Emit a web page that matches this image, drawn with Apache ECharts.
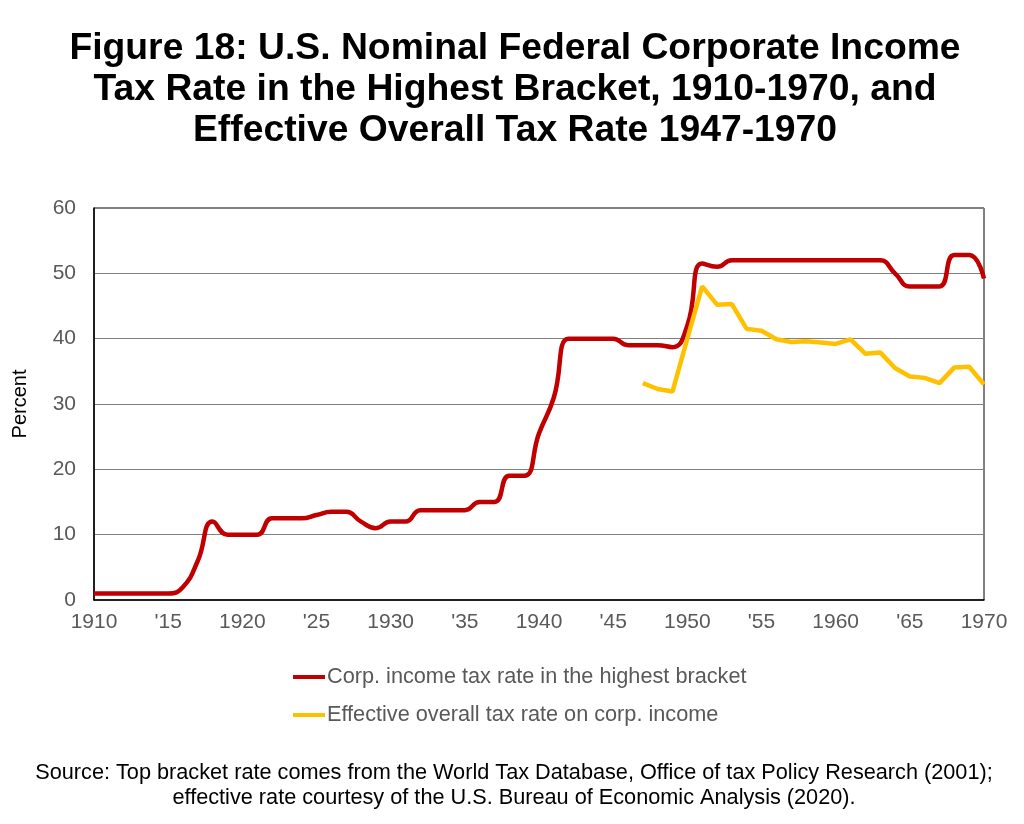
<!DOCTYPE html>
<html>
<head>
<meta charset="utf-8">
<script src="https://cdn.jsdelivr.net/npm/echarts@6/dist/echarts.min.js"></script>
<style>html,body{margin:0;padding:0;background:#fff}#c{width:1024px;height:824px}</style>
</head>
<body>
<div id="c"></div>
<script>
var topYears = [];
for (var y = 1910; y <= 1970; y++) topYears.push(y);
var topRate = [1,1,1,1,1,1,2,6,12,10,10,10,12.5,12.5,12.5,13,13.5,13.5,12,11,12,12,13.75,13.75,13.75,13.75,15,15,19,19,25.5,31,40,40,40,40,39,39,39,38.7,42,51.5,51,52,52,52,52,52,52,52,52,52,52,52,50,48,48,48,52.8,52.8,49.2];
var effYears = [];
for (var y2 = 1947; y2 <= 1970; y2++) effYears.push(y2);
var effRate = [33.2,32.3,31.9,40,48,45.2,45.3,41.5,41.2,39.9,39.5,39.6,39.4,39.2,39.9,37.7,37.9,35.5,34.2,34,33.2,35.6,35.7,33];
var seriesNames = ['Corp. income tax rate in the highest bracket','Effective overall tax rate on corp. income'];
var titleText = 'Figure 18: U.S. Nominal Federal Corporate Income\nTax Rate in the Highest Bracket, 1910-1970, and\nEffective Overall Tax Rate 1947-1970';
var sourceText = 'Source: Top bracket rate comes from the World Tax Database, Office of tax Policy Research (2001);\neffective rate courtesy of the U.S. Bureau of Economic Analysis (2020).';

function pairs(xs, vs){ return xs.map(function(x,i){return [x, vs[i]];}); }

var FONT = 'Liberation Sans, Arial, sans-serif';
var chart = echarts.init(document.getElementById('c'));
chart.setOption({
  animation: false,
  title: [
    {text: titleText, left: 510, top: 23, textAlign: 'center',
     textStyle: {fontFamily: FONT, fontSize: 37.3, fontWeight: 'bold', color: '#000', lineHeight: 41, align: 'center'}},
    {text: sourceText, left: 509, top: 756, textAlign: 'center',
     textStyle: {fontFamily: FONT, fontSize: 21.7, fontWeight: 'normal', color: '#000', lineHeight: 24.5, align: 'center'}}
  ],
  grid: {left: 94, right: 40, top: 208, bottom: 224, show: true, borderColor: '#000', borderWidth: 1, backgroundColor: 'transparent'},
  legend: {
    orient: 'vertical', left: 288, top: 661, itemGap: 16, itemWidth: 32, itemHeight: 4,
    icon: 'rect',
    textStyle: {fontFamily: FONT, fontSize: 21.7, color: '#595959', padding: [0,0,0,-3]},
    data: seriesNames
  },
  xAxis: {
    type: 'value', min: 1910, max: 1970, interval: 5,
    axisLine: {lineStyle: {color: '#000', width: 1.5}},
    axisTick: {show: false},
    splitLine: {show: false},
    axisLabel: {fontFamily: FONT, fontSize: 21, color: '#595959', margin: 12,
      formatter: function(v){ return v % 10 === 0 ? String(v) : "'" + String(v).slice(2); }}
  },
  yAxis: {
    type: 'value', min: 0, max: 60, interval: 10,
    name: 'Percent', nameLocation: 'middle', nameGap: 64, nameRotate: 90,
    nameTextStyle: {fontFamily: FONT, fontSize: 20, color: '#000'},
    axisLine: {show: true, lineStyle: {color: '#000', width: 1.5}},
    axisTick: {show: false},
    splitLine: {lineStyle: {color: '#808080', width: 1}},
    axisLabel: {fontFamily: FONT, fontSize: 21, color: '#595959', margin: 18}
  },
  series: [
    {name: seriesNames[0], type: 'line', data: pairs(topYears, topRate), smooth: 0.5, showSymbol: false,
     lineStyle: {color: '#C00000', width: 4.5}, itemStyle: {color: '#C00000'}},
    {name: seriesNames[1], type: 'line', data: pairs(effYears, effRate), smooth: false, showSymbol: false,
     lineStyle: {color: '#FFC000', width: 4.5}, itemStyle: {color: '#FFC000'}}
  ]
});
</script>
</body>
</html>
